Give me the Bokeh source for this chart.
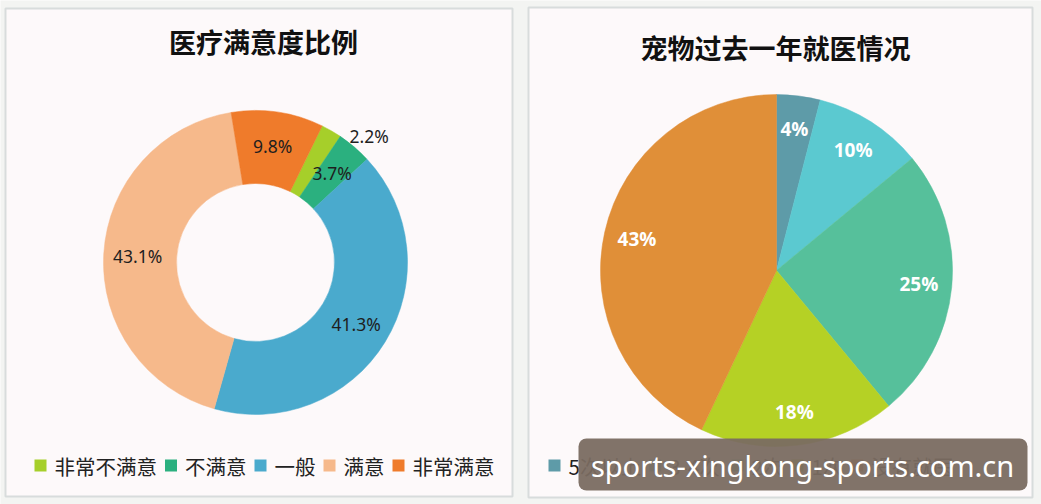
import math
from bokeh.plotting import figure
from bokeh.models import ColumnDataSource
from bokeh.embed import file_html
from bokeh.resources import INLINE
from bokeh.core.properties import value

W, H = 1041, 504

# ---------------- data ----------------
left_title = "医疗满意度比例"
left_cats = ["非常不满意", "不满意", "一般", "满意", "非常满意"]
left_vals = [2.2, 3.7, 41.3, 43.1, 9.8]
left_colors = ["#a6cf2a", "#2bb07f", "#4aaacd", "#f6b98b", "#ef7b2b"]

right_title = "宠物过去一年就医情况"
right_cats = ["5次以上", "3-4次", "2次", "1次", "没有就医"]
right_vals = [4, 10, 25, 18, 43]
right_colors = ["#5e9ba8", "#5bc9d0", "#56c09b", "#b5d125", "#e08f38"]

watermark = "sports-xingkong-sports.com.cn"

CJK = value("Noto Sans CJK SC")


def Y(ypix):
    return H - ypix


p = figure(width=W, height=H, x_range=(0, W), y_range=(0, H),
           output_backend="svg", toolbar_location=None,
           x_axis_location=None, y_axis_location=None, min_border=0)
p.grid.visible = False
p.outline_line_color = None
p.background_fill_color = "#f3f4f2"
p.border_fill_color = "#f3f4f2"

# panels
p.quad(left=[5, 528], right=[512, 1032], top=[Y(8), Y(7)], bottom=[Y(496), Y(497)],
       fill_color="#fdf9fa", line_color="#d8dcdc", line_width=2)


def pie(cats, vals, colors, cx, cy, r_in, r_out, start_deg, lab_r, fmt,
        lab_color, lab_size, lab_style, lab_font):
    total = sum(vals)
    theta0 = math.radians(start_deg)
    cum = [0.0]
    for v in vals:
        cum.append(cum[-1] + v / total)
    starts, ends, lx, ly, labs = [], [], [], [], []
    for i, v in enumerate(vals):
        s = theta0 - 2 * math.pi * cum[i + 1]
        e = theta0 - 2 * math.pi * cum[i]
        starts.append(s)
        ends.append(e)
        mid = (s + e) / 2
        rr = lab_r
        if v / total < 0.03:
            rr = r_out + 18
            mid -= 0.21
        lx.append(cx + rr * math.cos(mid))
        ly.append(cy + rr * math.sin(mid))
        labs.append(fmt(v))
    src = ColumnDataSource(dict(cat=cats, start=starts, end=ends, color=colors,
                                lx=lx, ly=ly, lab=labs))
    p.annular_wedge(x=cx, y=cy, inner_radius=r_in, outer_radius=r_out,
                    start_angle="start", end_angle="end", direction="anticlock",
                    fill_color="color", line_color="color", line_width=0.5,
                    source=src)
    p.text(x="lx", y="ly", text="lab", source=src, text_align="center",
           text_baseline="middle", text_color=lab_color,
           text_font_size=lab_size, text_font_style=lab_style,
           text_font=lab_font)


# left donut
pie(left_cats, left_vals, left_colors, 255, Y(262), 79, 152, 64, 118,
    lambda v: f"{v:.1f}%", "#1e1e1e", "17.5px", "normal", value("Noto Sans"))
# right pie
pie(right_cats, right_vals, right_colors, 776, Y(270), 0, 176, 90, 143,
    lambda v: f"{v:g}%", "#ffffff", "19px", "bold", value("Open Sans"))

# titles
p.text(x=[263, 775], y=[Y(41), Y(47)], text=[left_title, right_title],
       text_align="center", text_baseline="middle", text_font=CJK,
       text_font_size="27px", text_font_style="bold", text_color="#111111")


def tw(s, size):
    return sum(size if ord(c) > 255 else size * 0.55 for c in s)


def legend(cats, colors, x0, yc, size):
    sx, tx = [], []
    x = x0
    for c in cats:
        sx.append(x + 6)
        tx.append(x + 20)
        x = x + 20 + tw(c, size) + 8
    p.rect(x=sx, y=yc, width=12, height=12, fill_color=colors, line_color=None)
    p.text(x=tx, y=yc, text=cats, text_align="left", text_baseline="middle",
           text_font=CJK, text_font_size=f"{size}px", text_color="#222222")


legend(left_cats, left_colors, 34, Y(465), 20.5)
legend(right_cats, right_colors, 548, Y(465), 20.5)

# watermark banner
p.quad(left=578, right=1027, top=Y(438), bottom=Y(490), fill_color="#7a6c61",
       fill_alpha=0.95, line_color=None, border_radius=8)
p.text(x=[802], y=[Y(465)], text=[watermark], text_align="center",
       text_baseline="middle", text_font=value("Noto Sans"),
       text_font_size="29px", text_color="#ffffff")

open("out.html", "w").write(file_html(p, INLINE))
